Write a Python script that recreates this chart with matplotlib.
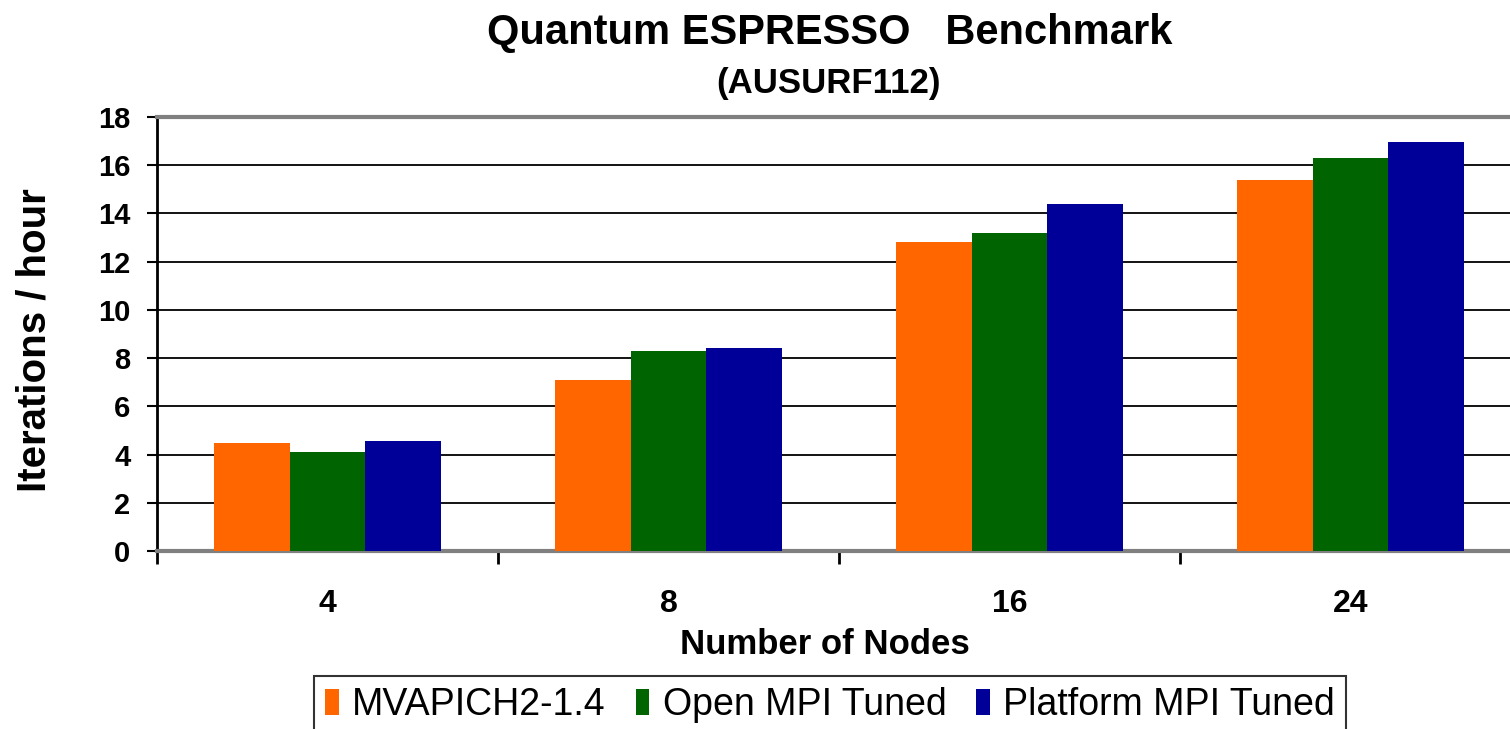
import matplotlib
matplotlib.use("Agg")
from matplotlib import pyplot as plt
import numpy as np

nodes = ['4', '8', '16', '24']
mvapich = [4.5, 7.1, 12.8, 15.4]
openmpi = [4.1, 8.3, 13.2, 16.3]
platform = [4.55, 8.4, 14.4, 16.95]

series = ['MVAPICH2-1.4', 'Open MPI Tuned', 'Platform MPI Tuned']
colors = ['#FF6600', '#006400', '#000099']

plt.rcParams['font.family'] = ['Liberation Sans', 'DejaVu Sans']

W, H = 1510, 729
fig = plt.figure(figsize=(W / 100, H / 100), dpi=100)
ax = fig.add_axes([157 / W, 1 - 551 / H, (1521 - 157) / W, (551 - 117) / H])

x = np.arange(len(nodes))
bw = 0.222
for i, (vals, c, name) in enumerate(zip([mvapich, openmpi, platform], colors, series)):
    ax.bar(x + (i - 1) * bw, vals, bw, color=c, label=name, zorder=3)

ax.set_xlim(-0.5, 3.5)
ax.set_ylim(0, 18)
ax.set_yticks(range(0, 19, 2))
ax.set_xticks(x)
ax.set_xticklabels(nodes, fontsize=23, fontweight='bold')
ax.set_xticks(np.arange(-0.5, 3.6, 1), minor=True)
ax.tick_params(axis='x', which='major', length=0, pad=27)
ax.tick_params(axis='x', which='minor', length=9, width=2, color='black', direction='out')
ax.tick_params(axis='y', length=7, width=1.5, color='black', labelsize=21, pad=12)
for lab in ax.get_yticklabels():
    lab.set_fontweight('bold')

ax.grid(axis='y', color='black', linewidth=1.3, zorder=1)
ax.set_axisbelow(True)
ax.spines['left'].set_color('black')
ax.spines['left'].set_linewidth(2)
ax.spines['bottom'].set_color('#808080')
ax.spines['bottom'].set_linewidth(3)
ax.spines['top'].set_color('#808080')
ax.spines['top'].set_linewidth(3)
ax.spines['right'].set_visible(False)

ax.set_ylabel('Iterations / hour', fontsize=29, fontweight='bold', va='center', ha='center')
ax.yaxis.set_label_coords((35 - 157) / 1364, 0.486)
ax.set_xlabel('Number of Nodes', fontsize=25, fontweight='bold', va='center', ha='center')
ax.xaxis.set_label_coords((825 - 157) / 1364, (551 - 645) / 434)

fig.text(830 / W, 1 - 33 / H, 'Quantum ESPRESSO   Benchmark', ha='center', va='center',
         fontsize=30, fontweight='bold')
fig.text(829 / W, 1 - 84 / H, '(AUSURF112)', ha='center', va='center',
         fontsize=25, fontweight='bold')

leg = fig.legend(loc='upper center', bbox_to_anchor=(830 / W, 1 - 676 / H), ncol=3,
                 fontsize=27, frameon=True, fancybox=False, edgecolor='black',
                 handlelength=0.37, handleheight=0.7, handletextpad=0.35,
                 columnspacing=0.8, borderaxespad=0, borderpad=0.3)
leg.get_frame().set_linewidth(1.5)

fig.savefig('out.png', dpi=100)
